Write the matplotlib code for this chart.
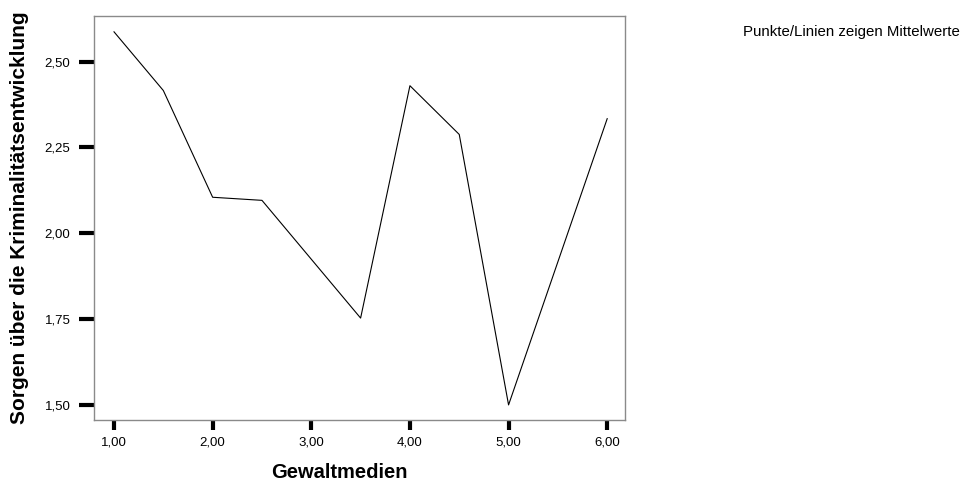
import matplotlib
matplotlib.use("Agg")
import matplotlib.pyplot as plt
from matplotlib.ticker import FuncFormatter

plt.rcParams['font.family'] = ['Liberation Sans', 'DejaVu Sans']

# group means per Gewaltmedien level
gewalt = [1.0, 1.5, 2.0, 2.5, 3.5, 4.0, 4.5, 5.0, 6.0]
sorgen = [2.587, 2.416, 2.105, 2.096, 1.753, 2.430, 2.288, 1.500, 2.334]

x_ticks = [1, 2, 3, 4, 5, 6]
y_ticks = [1.50, 1.75, 2.00, 2.25, 2.50]

fig = plt.figure(figsize=(9.64, 4.83), dpi=100)
ax = fig.add_axes([0.0975, 0.1304, 0.5508, 0.8371])

ax.plot(gewalt, sorgen, color='black', linewidth=0.8)

ax.set_xlim(0.797, 6.18)
ax.set_ylim(1.456, 2.634)
ax.set_xticks(x_ticks)
ax.set_yticks(y_ticks)

comma = FuncFormatter(lambda v, p: f"{v:.2f}".replace('.', ','))
ax.xaxis.set_major_formatter(comma)
ax.yaxis.set_major_formatter(comma)

ax.tick_params(axis='x', direction='out', length=7, width=3, color='black',
               labelsize=9.5, pad=5)
ax.tick_params(axis='y', direction='out', length=11, width=3, color='black',
               labelsize=9.5, pad=6)

for s in ax.spines.values():
    s.set_color('#8a8a8a')
    s.set_linewidth(1)

ax.set_xlabel('Gewaltmedien', fontsize=14.5, fontweight='bold')
ax.xaxis.set_label_coords(0.462, -0.106)
ax.set_ylabel('Sorgen über die Kriminalitätsentwicklung', fontsize=15,
              fontweight='bold')
ax.yaxis.set_label_coords(-0.122, 0.5)

fig.text(0.771, 0.934, 'Punkte/Linien zeigen Mittelwerte', fontsize=10.8,
         ha='left', va='center')

fig.savefig('out.png', dpi=100)
